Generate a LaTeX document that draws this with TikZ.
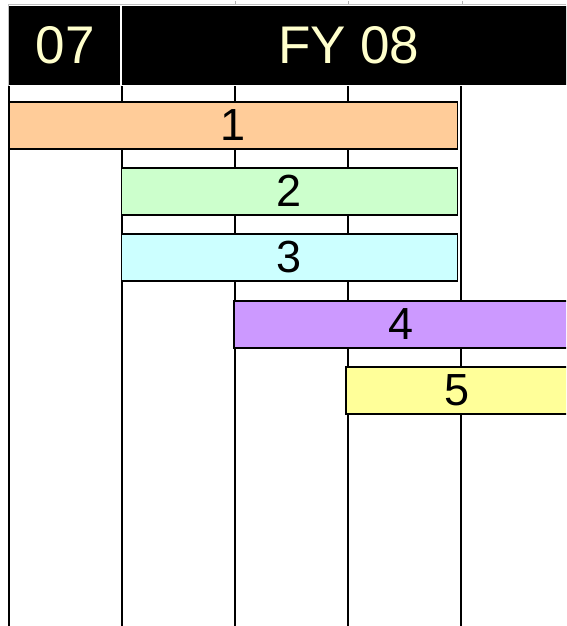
\documentclass[tikz,border=0pt]{standalone}
\usepackage{fontspec}
\setmainfont{Liberation Sans}
\definecolor{hdrtext}{HTML}{FFFFCC}
\definecolor{cOrange}{HTML}{FFCC99}
\definecolor{cGreen}{HTML}{CCFFCC}
\definecolor{cCyan}{HTML}{CCFFFF}
\definecolor{cPurple}{HTML}{CC99FF}
\definecolor{cYellow}{HTML}{FFFF99}
\tikzset{
  gridline/.style={line width=2pt, black},
  bar/.style={draw=black, line width=1.5pt, inner sep=0pt, minimum height=47pt, font=\fontsize{45}{45}\selectfont, text depth=0pt},
  hdr/.style={fill=black, draw=none, inner sep=0pt, minimum height=79pt, text=hdrtext, font=\fontsize{53}{53}\selectfont},
}
\begin{document}
\begin{tikzpicture}[x=1pt,y=-1pt]
\useasboundingbox (0,0) rectangle (566,626);
\begin{scope}
\clip (0,0) rectangle (566,626);
% faint top rule
\draw[gray!50, line width=0.8pt] (8,4) -- (566,4);
\draw[gray!50, line width=0.8pt] (8,4) -- (8,86);
\foreach \x in {235,348,462} \draw[gray!60, line width=0.8pt] (\x,4) -- (\x,1);
% vertical grid lines
\foreach \x/\n in {9/a,122/b,235/c,348/d,461/e} {
  \coordinate (t\n) at (\x,86);
  \coordinate (b\n) at (\x,626);
  \draw[gridline] (t\n) -- (b\n);
}
% header
\node[hdr, minimum width=112pt, anchor=north west] (h07) at (9,6) {07};
\node[hdr, minimum width=453pt, anchor=north west] (h08) at (122,6) {FY 08};
\draw[white, line width=1.5pt] (121,6) -- (121,85);
% bars
\node[bar, fill=cOrange, minimum width=448pt, anchor=north west] (b1) at (8.5,101) {1};
\node[bar, fill=cGreen, minimum width=336pt, anchor=north west] (b2) at (120.5,167) {2};
\node[bar, fill=cCyan, minimum width=336pt, anchor=north west] (b3) at (120.5,233) {3};
\node[bar, fill=cPurple, minimum width=334pt, anchor=north west] (b4) at (233,300) {4};
\node[bar, fill=cYellow, minimum width=222pt, anchor=north west] (b5) at (345,366) {5};
\end{scope}
\end{tikzpicture}
\end{document}
